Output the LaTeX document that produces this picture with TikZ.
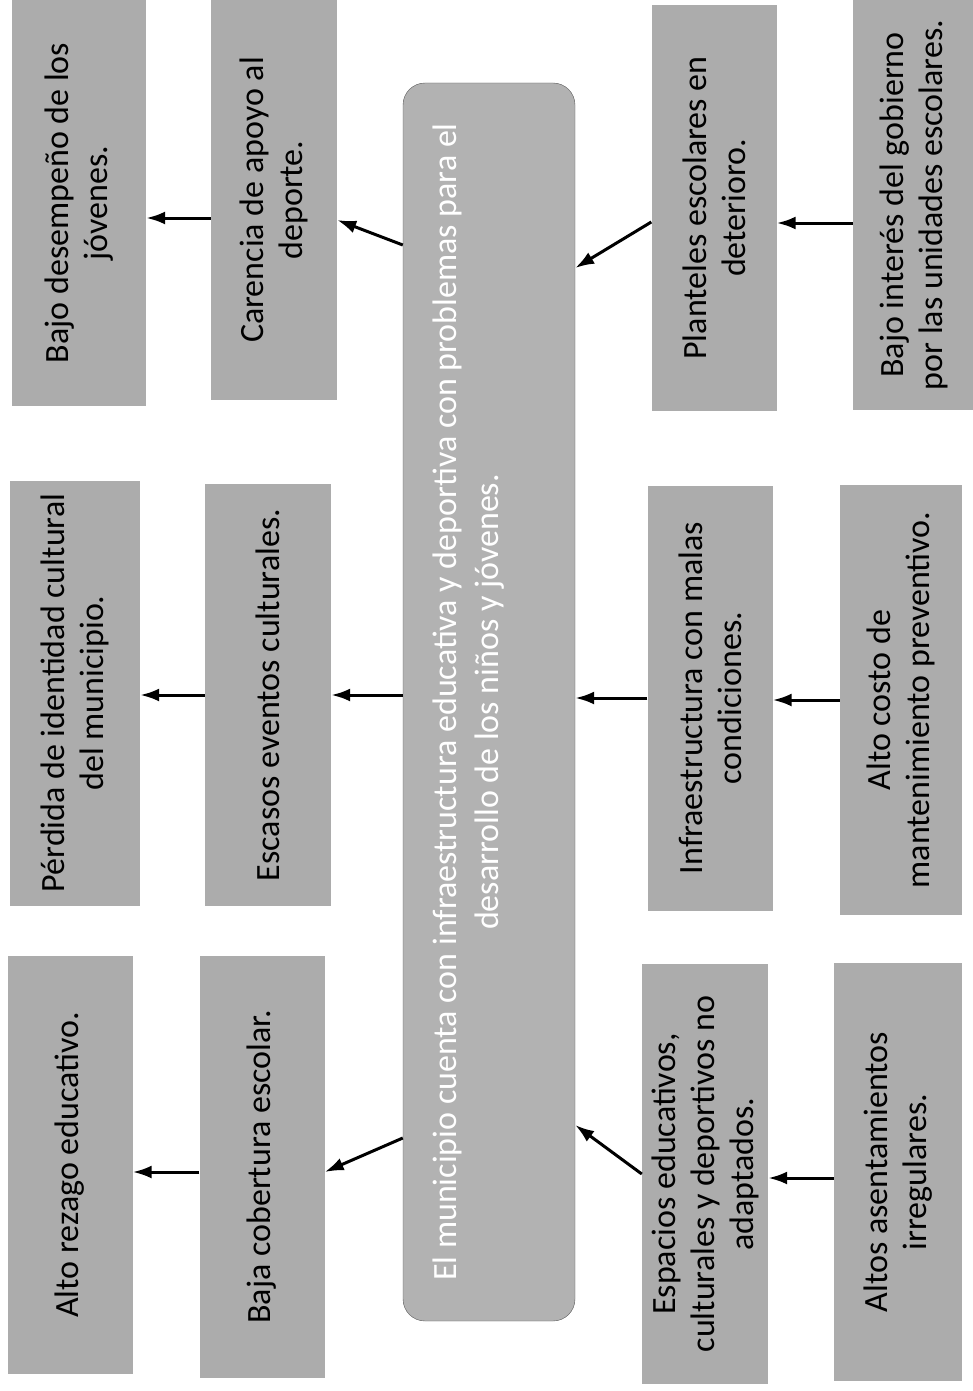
\documentclass[tikz,border=0pt]{standalone}
\usepackage{xcolor}
\usepackage{fontspec}
\setmainfont{Carlito}
\usetikzlibrary{arrows.meta}

\begin{document}
\begin{tikzpicture}[x=1pt, y=-1pt,
  caja/.style={rotate=90, fill=grisCaja, align=center, inner sep=4pt,
    font=\fontsize{34}{39}\selectfont},
  centro/.style={rotate=90, fill=grisCentro, draw=gray!70!black, rounded corners=22pt,
    align=center, text=white, font=\fontsize{34}{42}\selectfont},
  flecha/.style={line width=3pt, -{Latex[length=19pt, width=13pt]}}]
  \definecolor{grisCaja}{RGB}{172,172,172}
  \definecolor{grisCentro}{RGB}{178,178,178}
  \useasboundingbox (0,0) rectangle (972,1391);

  % problema central
  \node[centro, minimum width=1238pt, minimum height=172pt, text depth=46pt] (P) at (489,702)
    {El municipio cuenta con infraestructura educativa y deportiva con problemas para el\\
     desarrollo de los niños y jóvenes.};

  % efectos
  \node[caja, minimum width=405pt, minimum height=134pt] (A1) at (79,203) {Bajo desempeño de los\\jóvenes.};
  \node[caja, minimum width=425pt, minimum height=130pt] (A2) at (75,693) {Pérdida de identidad cultural\\del municipio.};
  \node[caja, minimum width=418pt, minimum height=125pt] (A3) at (70,1165) {Alto rezago educativo.};

  \node[caja, minimum width=400pt, minimum height=126pt] (B1) at (274,200) {Carencia de apoyo al\\deporte.};
  \node[caja, minimum width=422pt, minimum height=126pt] (B2) at (268,695) {Escasos eventos culturales.};
  \node[caja, minimum width=422pt, minimum height=125pt] (B3) at (262,1167) {Baja cobertura escolar.};

  % causas
  \node[caja, minimum width=405pt, minimum height=125pt] (C1) at (714,208) {Planteles escolares en\\deterioro.};
  \node[caja, minimum width=425pt, minimum height=125pt] (C2) at (710,698) {Infraestructura con malas\\condiciones.};
  \node[caja, minimum width=420pt, minimum height=126pt] (C3) at (705,1174) {Espacios educativos,\\culturales y deportivos no\\adaptados.};

  \node[caja, minimum width=410pt, minimum height=122pt] (D1) at (914,205) {Bajo interés del gobierno\\por las unidades escolares.};
  \node[caja, minimum width=430pt, minimum height=122pt] (D2) at (901,700) {Alto costo de\\mantenimiento preventivo.};
  \node[caja, minimum width=418pt, minimum height=128pt] (D3) at (898,1172) {Altos asentamientos\\irregulares.};

  % puntos sobre los lados del problema central
  \coordinate (izq1) at ([yshift=-45pt]P.north |- B1.south);
  \coordinate (izq3) at ([yshift=29pt]P.north |- B3.south);
  \coordinate (der1) at ([yshift=-60pt]P.south |- C1.north);
  \coordinate (der3) at ([yshift=49pt]P.south |- C3.north);

  \draw[flecha] ([yshift=-18pt]B1.north) -- ([yshift=-18pt]B1.north -| A1.south);
  \draw[flecha] (B2.north) -- (B2.north -| A2.south);
  \draw[flecha] ([yshift=-5pt]B3.north) -- ([yshift=-5pt]B3.north -| A3.south);

  \draw[flecha] (izq1) -- ([yshift=-20pt]B1.south);
  \draw[flecha] (P.north |- B2.south) -- (B2.south);
  \draw[flecha] (izq3) -- ([yshift=-5pt]B3.south);

  \draw[flecha] ([yshift=-14pt]C1.north) -- (der1);
  \draw[flecha] (C2.north) -- (C2.north -| P.south);
  \draw[flecha] (C3.north) -- (der3);

  \draw[flecha] ([yshift=-18pt]D1.north) -- ([yshift=-18pt]D1.north -| C1.south);
  \draw[flecha] (D2.north) -- (D2.north -| C2.south);
  \draw[flecha] ([yshift=-6pt]D3.north) -- ([yshift=-6pt]D3.north -| C3.south);
\end{tikzpicture}
\end{document}
